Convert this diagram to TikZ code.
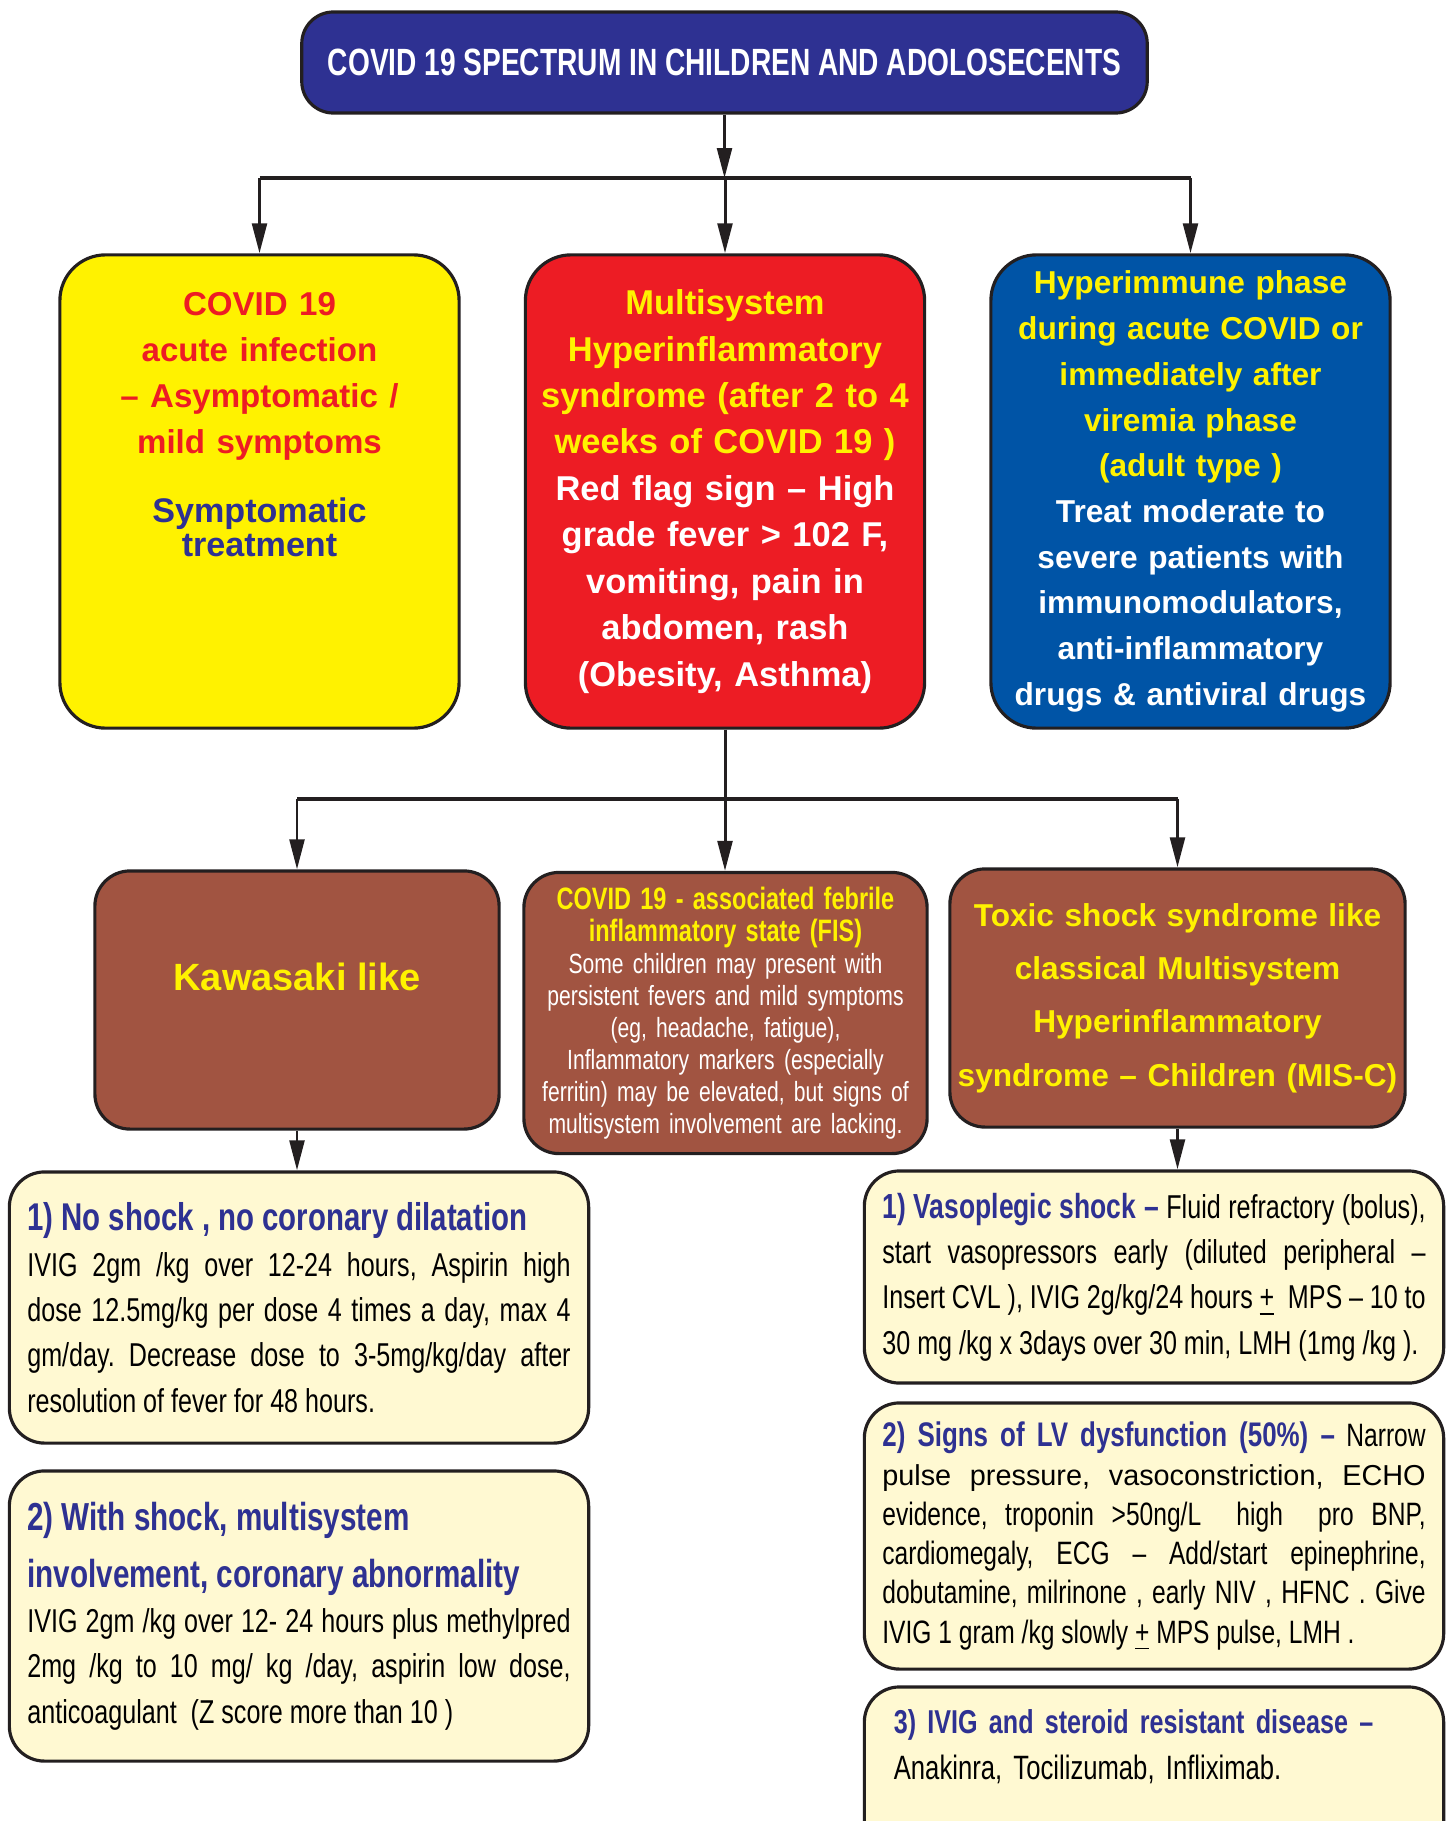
\documentclass[tikz,border=0pt]{standalone}
\usepackage{fontspec}
\setmainfont{Liberation Sans}
\newfontfamily\narrowfont[FakeStretch=0.76,Ligatures=TeX]{Liberation Sans}
\newfontfamily\titlefont[FakeStretch=0.74,Ligatures=TeX]{Liberation Sans}
\usepackage{xcolor}
\usepackage{tikz}
\usetikzlibrary{arrows.meta}
\definecolor{outline}{HTML}{231F20}
\definecolor{titleblue}{HTML}{2E3192}
\definecolor{textblue}{HTML}{2E3192}
\definecolor{yellowfill}{HTML}{FFF200}
\definecolor{yellowtext}{HTML}{FFF200}
\definecolor{redfill}{HTML}{ED1C24}
\definecolor{redtext}{HTML}{ED1C24}
\definecolor{bluefill}{HTML}{0054A6}
\definecolor{brownfill}{HTML}{A15441}
\definecolor{cream}{HTML}{FFF9D2}
\frenchspacing
\newcommand{\notehead}[1]{{\color{textblue}\bfseries #1}}
\tikzset{box/.style={draw=outline, line width=0.9pt, inner sep=0pt, align=center},
    titlebox/.style={box, fill=titleblue, text=white, rounded corners=9pt,
        minimum width=8.45cm, minimum height=1.01cm,
        font=\titlefont\bfseries\fontsize{10.8}{12}\selectfont},
    phasebox/.style={box, rounded corners=13pt, minimum width=3.99cm,
        minimum height=4.73cm, text width=3.9cm,
        font=\bfseries\fontsize{9.8}{13.2}\selectfont},
    formbox/.style={box, fill=brownfill, rounded corners=10pt, minimum height=2.58cm},
    notebox/.style={box, fill=cream, rounded corners=10pt, align=justify,
        minimum width=5.79cm, text width=5.43cm,
        font=\narrowfont\fontsize{9.4}{12.9}\selectfont},
    arr/.style={draw=outline, line width=0.85pt, -{Triangle[length=8.5pt,width=4.2pt]}},
    bar/.style={draw=outline, line width=1.3pt}}
\begin{document}
\begin{tikzpicture}[x=0.01cm,y=-0.01cm]
    \useasboundingbox (0,0) rectangle (1454,1821);
    \node[titlebox] (title) at (724.5,62.5) {COVID 19 SPECTRUM IN CHILDREN AND ADOLOSECENTS};
    \node[phasebox, fill=yellowfill] (acute) at (259.5,491.5)
        {{\color{redtext}\fontsize{9.4}{13.1}\selectfont COVID 19\\ acute infection\\
        -- Asymptomatic /\\ mild symptoms\par}
        \vspace{10pt}
        {\color{textblue}\fontsize{9.7}{9.6}\selectfont Symptomatic\\ treatment\par}
        \rule{0pt}{1.3cm}};
    \node[phasebox, fill=redfill] (mis) at (725,491.5)
        {{\color{yellowtext}Multisystem\\ Hyperinflammatory\\ syndrome (after 2 to 4\\
        weeks of COVID 19 )}\\
        {\color{white}Red flag sign -- High\\ grade fever > 102 F,\\ vomiting, pain in\\
        abdomen, rash\\ (Obesity, Asthma)}};
    \node[phasebox, fill=bluefill, font=\bfseries\fontsize{9}{13}\selectfont] (hyper) at (1190.5,491.5)
        {{\color{yellowtext}Hyperimmune phase\\ during acute COVID or\\ immediately after\\
        viremia phase\\ (adult type )}\\
        {\color{white}Treat moderate to\\ severe patients with\\ immunomodulators,\\
        anti-inflammatory\\ drugs \& antiviral drugs}};
    \node[formbox, minimum width=4.04cm, text=yellowtext,
        font=\bfseries\fontsize{10.8}{13}\selectfont] (kawa) at (297,1000)
        {Kawasaki like\\\rule{0pt}{0.2cm}};
    \node[formbox, minimum width=4.03cm, minimum height=2.81cm, text width=3.9cm, text=white,
        font=\narrowfont\fontsize{7.9}{9.1}\selectfont] (fis) at (725.5,1013)
        {{\color{yellowtext}\bfseries\fontsize{8.8}{9.1}\selectfont COVID 19 - associated febrile\\
        inflammatory state (FIS)}\\
        Some children may present with\\ persistent fevers and mild symptoms\\
        (eg, headache, fatigue),\\ Inflammatory markers (especially\\
        ferritin) may be elevated, but signs of\\ multisystem involvement are lacking.};
    \node[formbox, minimum width=4.55cm, text width=4.5cm, text=yellowtext,
        font=\bfseries\fontsize{9}{15.2}\selectfont] (toxic) at (1177.5,998)
        {Toxic shock syndrome like\\ classical Multisystem\\ Hyperinflammatory\\
        syndrome -- Children (MIS-C)};
    \node[notebox, minimum height=2.71cm] (nocor) at (299,1307.5)
        {\notehead{\fontsize{11}{12.9}\selectfont 1) No shock , no coronary dilatation}\par
        IVIG 2gm /kg over 12-24 hours, Aspirin high\linebreak
        dose 12.5mg/kg per dose 4 times a day, max 4\linebreak
        gm/day. Decrease dose to 3-5mg/kg/day after\linebreak
        resolution of fever for 48 hours.};
    \node[notebox, minimum height=2.9cm] (shock) at (299,1616)
        {\notehead{\fontsize{11.1}{16.2}\selectfont 2) With shock, multisystem\\
        involvement, coronary abnormality\par}
        \fontsize{9.4}{13.8}\selectfont
        IVIG 2gm /kg over 12- 24 hours plus methylpred\linebreak
        2mg /kg to 10 mg/ kg /day, aspirin low dose,\linebreak
        anticoagulant\ \ (Z score more than 10 )};
    \node[notebox, minimum height=2.12cm] (vaso) at (1154,1277)
        {\notehead{\fontsize{9.9}{12.9}\selectfont 1) Vasoplegic shock --} Fluid refractory (bolus),\linebreak
        start vasopressors early (diluted peripheral --\linebreak
        Insert CVL ), IVIG 2g/kg/24 hours \underline{+}\ \ MPS -- 10 to\linebreak
        30 mg /kg x 3days over 30 min, LMH (1mg /kg ).};
    \node[notebox, minimum height=2.66cm, font=\narrowfont\fontsize{9.2}{11.2}\selectfont] (lvdys) at (1154,1536)
        {\notehead{\fontsize{9.7}{11.2}\selectfont 2) Signs of LV dysfunction (50\%) --} Narrow\linebreak
        {\normalfont\fontsize{8.2}{11.2}\selectfont pulse pressure, vasoconstriction, ECHO}\linebreak
        evidence, troponin >50ng/L\ \ high\ \ pro BNP,\linebreak
        cardiomegaly, ECG -- Add/start epinephrine,\linebreak
        dobutamine, milrinone , early NIV , HFNC . Give\linebreak
        IVIG 1 gram /kg slowly \underline{+} MPS pulse,\ LMH .};
    \node[notebox, align=left, text width=5.2cm, minimum height=1.83cm,
        font=\narrowfont\fontsize{9.6}{13.2}\selectfont] (ivigres) at (1154,1778.5)
        {\notehead{\fontsize{9.4}{13.2}\selectfont 3) IVIG and steroid resistant disease --}\par
        Anakinra, Tocilizumab, Infliximab.\par\rule{0pt}{0.6cm}};
    \coordinate (fork1) at (724.5,178);
    \coordinate (fork2) at (725,799);
    \draw[bar] (acute.north |- fork1) -- (hyper.north |- fork1);
    \draw[arr] (title.south) -- (fork1);
    \foreach \n in {acute,mis,hyper}
        \draw[arr] (\n.north |- fork1) -- (\n.north);
    \draw[bar] (kawa.north |- fork2) -- (toxic.north |- fork2);
    \draw[arr] (mis.south) -- (mis.south |- fis.north);
    \foreach \n in {kawa,toxic}
        \draw[arr] (\n.north |- fork2) -- (\n.north);
    \draw[arr] (kawa.south) -- (kawa.south |- nocor.north);
    \draw[arr] (toxic.south) -- (toxic.south |- vaso.north);
\end{tikzpicture}
\end{document}
